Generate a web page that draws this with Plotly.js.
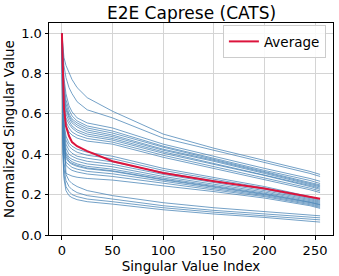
<!DOCTYPE html>
<html>
<head>
<meta charset="utf-8">
<script src="https://cdn.plot.ly/plotly-3.0.1.min.js"></script>
<style>html,body{margin:0;padding:0;background:#fff;}#chart{width:339px;height:276px;}</style>
</head>
<body>
<div id="chart"></div>
<script>
const idx = [0, 1, 2, 4, 7, 10, 15, 25, 50, 100, 150, 200, 245, 255];

// Per-layer normalized singular value curves
const layer01 = [1, 0.93, 0.88, 0.84, 0.80, 0.77, 0.73, 0.68, 0.613, 0.50, 0.43, 0.37, 0.315, 0.30];
const layer02 = [1, 0.90, 0.84, 0.78, 0.73, 0.70, 0.66, 0.62, 0.58, 0.48, 0.42, 0.36, 0.305, 0.29];
const layer03 = [1, 0.86, 0.78, 0.70, 0.64, 0.61, 0.58, 0.555, 0.53, 0.45, 0.39, 0.33, 0.28, 0.266];
const layer04 = [1, 0.84, 0.75, 0.67, 0.62, 0.59, 0.565, 0.54, 0.515, 0.44, 0.38, 0.32, 0.27, 0.255];
const layer05 = [1, 0.82, 0.72, 0.65, 0.60, 0.575, 0.555, 0.53, 0.505, 0.435, 0.375, 0.315, 0.262, 0.248];
const layer06 = [1, 0.80, 0.70, 0.63, 0.59, 0.565, 0.545, 0.52, 0.495, 0.425, 0.37, 0.31, 0.258, 0.243];
const layer07 = [1, 0.78, 0.68, 0.62, 0.58, 0.555, 0.535, 0.51, 0.487, 0.42, 0.365, 0.305, 0.252, 0.238];
const layer08 = [1, 0.77, 0.66, 0.60, 0.565, 0.54, 0.52, 0.50, 0.478, 0.412, 0.355, 0.30, 0.245, 0.232];
const layer09 = [1, 0.75, 0.64, 0.58, 0.55, 0.53, 0.51, 0.49, 0.47, 0.405, 0.35, 0.295, 0.24, 0.226];
const layer10 = [1, 0.73, 0.62, 0.56, 0.53, 0.51, 0.495, 0.478, 0.46, 0.395, 0.34, 0.285, 0.232, 0.218];
const layer11 = [1, 0.70, 0.60, 0.54, 0.51, 0.495, 0.48, 0.465, 0.45, 0.385, 0.33, 0.275, 0.224, 0.21];
const layer12 = [1, 0.68, 0.56, 0.49, 0.455, 0.44, 0.425, 0.41, 0.39, 0.33, 0.285, 0.24, 0.19, 0.178];
const layer13 = [1, 0.66, 0.54, 0.47, 0.44, 0.425, 0.41, 0.395, 0.378, 0.32, 0.275, 0.233, 0.185, 0.172];
const layer14 = [1, 0.64, 0.52, 0.45, 0.42, 0.405, 0.39, 0.38, 0.362, 0.31, 0.268, 0.227, 0.18, 0.167];
const layer15 = [1, 0.62, 0.50, 0.43, 0.40, 0.39, 0.378, 0.365, 0.35, 0.30, 0.26, 0.22, 0.175, 0.162];
const layer16 = [1, 0.60, 0.48, 0.41, 0.385, 0.375, 0.365, 0.352, 0.338, 0.29, 0.252, 0.213, 0.17, 0.157];
const layer17 = [1, 0.58, 0.46, 0.40, 0.375, 0.363, 0.352, 0.34, 0.326, 0.282, 0.245, 0.207, 0.165, 0.152];
const layer18 = [1, 0.56, 0.44, 0.38, 0.36, 0.35, 0.34, 0.328, 0.315, 0.273, 0.238, 0.20, 0.16, 0.147];
const layer19 = [1, 0.54, 0.42, 0.36, 0.345, 0.335, 0.326, 0.315, 0.303, 0.265, 0.23, 0.195, 0.155, 0.142];
const layer20 = [1, 0.52, 0.40, 0.345, 0.33, 0.32, 0.312, 0.302, 0.29, 0.256, 0.223, 0.19, 0.15, 0.137];
const layer21 = [1, 0.62, 0.52, 0.305, 0.298, 0.292, 0.286, 0.28, 0.272, 0.245, 0.215, 0.183, 0.145, 0.132];
const layer22 = [1, 0.55, 0.45, 0.39, 0.365, 0.355, 0.345, 0.332, 0.318, 0.276, 0.24, 0.203, 0.162, 0.15];
const layer23 = [1, 0.48, 0.36, 0.30, 0.27, 0.255, 0.24, 0.22, 0.195, 0.16, 0.135, 0.115, 0.098, 0.095];
const layer24 = [1, 0.45, 0.33, 0.27, 0.24, 0.225, 0.21, 0.195, 0.178, 0.145, 0.122, 0.104, 0.088, 0.085];
const layer25 = [1, 0.42, 0.30, 0.24, 0.215, 0.20, 0.19, 0.178, 0.165, 0.135, 0.113, 0.095, 0.078, 0.075];
const layer26 = [1, 0.40, 0.28, 0.22, 0.195, 0.185, 0.175, 0.165, 0.153, 0.125, 0.104, 0.087, 0.068, 0.064];

const average = [1, 0.75, 0.63, 0.54, 0.49, 0.46, 0.44, 0.415, 0.365, 0.307, 0.266, 0.23, 0.192, 0.18];

const layers = [layer01, layer02, layer03, layer04, layer05, layer06, layer07, layer08, layer09,
  layer10, layer11, layer12, layer13, layer14, layer15, layer16, layer17, layer18, layer19,
  layer20, layer21, layer22, layer23, layer24, layer25, layer26];

const xTicks = [0, 50, 100, 150, 200, 250];
const yTicks = [0.0, 0.2, 0.4, 0.6, 0.8, 1.0];

const traces = layers.map(v => ({
  x: idx, y: v, type: 'scatter', mode: 'lines',
  line: {color: 'rgba(70,130,180,0.75)', width: 1},
  showlegend: false, hoverinfo: 'skip'
}));
traces.push({
  x: idx, y: average, type: 'scatter', mode: 'lines', name: 'Average',
  line: {color: '#dc143c', width: 2}
});

const tickFont = {family: 'DejaVu Sans', size: 13, color: '#000'};
const labelFont = {family: 'DejaVu Sans', size: 13.5, color: '#000'};
const axisCommon = {
  showline: true, mirror: true, linecolor: '#000', linewidth: 1,
  ticks: 'outside', ticklen: 3.5, tickcolor: '#000', tickwidth: 1,
  showgrid: true, gridcolor: '#d4d4d4', gridwidth: 1, zeroline: false,
  tickfont: tickFont
};

const layout = {
  width: 339, height: 276,
  margin: {l: 49, r: 6, t: 23, b: 41},
  paper_bgcolor: '#fff', plot_bgcolor: '#fff',
  font: labelFont,
  title: {text: 'E2E Caprese (CATS)', font: {family: 'DejaVu Sans', size: 17, color: '#000'},
          x: 0.565, xanchor: 'center', y: 0.953, yanchor: 'middle'},
  xaxis: Object.assign({}, axisCommon, {
    range: [-12.75, 267.75], tickvals: xTicks, ticktext: xTicks.map(String),
    title: {text: 'Singular Value Index', font: labelFont, standoff: 0}
  }),
  yaxis: Object.assign({}, axisCommon, {
    range: [0, 1.05], tickvals: yTicks, ticktext: yTicks.map(v => v.toFixed(1)),
    title: {text: 'Normalized Singular Value', font: labelFont, standoff: 3}
  }),
  legend: {
    x: 0.975, xanchor: 'right', y: 0.99, yanchor: 'top',
    bgcolor: 'rgba(255,255,255,0.85)', bordercolor: '#cccccc', borderwidth: 1,
    font: labelFont, itemwidth: 30
  },
  showlegend: true
};

Plotly.newPlot('chart', traces, layout, {staticPlot: true, displayModeBar: false});
</script>
</body>
</html>
